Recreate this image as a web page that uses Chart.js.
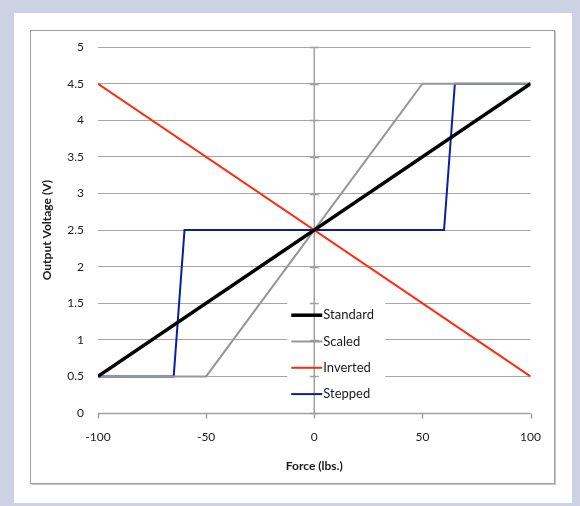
<!DOCTYPE html>
<html>
<head>
<meta charset="utf-8">
<script src="https://cdn.jsdelivr.net/npm/chart.js@4.4.1/dist/chart.umd.min.js"></script>
<style>
  body { margin: 0; background: #cdd1e4; width: 580px; height: 506px; overflow: hidden; position: relative; }
  #panel { position: absolute; left: 14px; top: 13px; width: 558px; height: 490px; background: #fff; }
  #frame { position: absolute; left: 30px; top: 30px; width: 523px; height: 452px; border: 1px solid #a0a0a0; box-shadow: 1px 1px 0 #c8c8c8; background: #fff; overflow: hidden; }
  canvas { display: block; position: absolute; left: 0; top: -5px; }
</style>
</head>
<body>
<div id="panel"></div>
<div id="frame"><canvas id="myChart" width="527" height="457"></canvas></div>
<script>
// series: force (lbs.) -> output voltage (V)
const standardX = [-100, 100];
const standardY = [0.5, 4.5];
const scaledX = [-100, -50, 50, 100];
const scaledY = [0.5, 0.5, 4.5, 4.5];
const invertedX = [-100, 100];
const invertedY = [4.5, 0.5];
const steppedX = [-100, -65, -60, 60, 65, 100];
const steppedY = [0.5, 0.5, 2.5, 2.5, 4.5, 4.5];

const seriesNames = ["Standard", "Scaled", "Inverted", "Stepped"];
const seriesColors = ["#000000", "#969696", "#ff2a0a", "#0a1fa0"];
const seriesWidths = [3.5, 2, 2, 2];

function toPoints(xs, ys) {
  return xs.map((x, i) => ({ x: x, y: ys[i] }));
}

const font = "Lato, 'Open Sans', sans-serif";

// zero-crossing axes + legend box drawn in the plot area, like the Excel original
const excelBits = {
  id: 'excelBits',
  beforeDatasetsDraw(chart) {
    const ctx = chart.ctx;
    const xs = chart.scales.x, ys = chart.scales.y;
    const area = chart.chartArea;
    const x0 = xs.getPixelForValue(0);
    ctx.save();
    // legend background hides the gridlines behind it
    ctx.fillStyle = '#fff';
    ctx.fillRect(x0 - 27, area.top + 254, 98, 106);
    ctx.strokeStyle = '#a0a0a0';
    ctx.lineWidth = 1.5;
    ctx.beginPath();
    ctx.moveTo(x0, area.top);
    ctx.lineTo(x0, area.bottom);
    ys.ticks.forEach(t => {
      const py = Math.round(ys.getPixelForValue(t.value)) + 0.5;
      ctx.moveTo(x0 - 4.5, py);
      ctx.lineTo(x0 + 4.5, py);
    });
    ctx.stroke();
    ctx.beginPath();
    const yb = Math.round(ys.getPixelForValue(0)) + 0.5;
    ctx.moveTo(area.left, yb);
    ctx.lineTo(area.right, yb);
    xs.ticks.forEach(t => {
      const px = Math.round(xs.getPixelForValue(t.value)) + 0.5;
      ctx.moveTo(px, yb);
      ctx.lineTo(px, yb + 5);
    });
    ctx.stroke();
    ctx.restore();
  },
  afterDatasetsDraw(chart) {
    const ctx = chart.ctx;
    const area = chart.chartArea;
    const x0 = chart.scales.x.getPixelForValue(0);
    ctx.save();
    ctx.font = '13px ' + font;
    ctx.textBaseline = 'middle';
    chart.data.datasets.forEach((ds, i) => {
      const py = area.top + 268 + i * 26.3;
      ctx.strokeStyle = ds.borderColor;
      ctx.lineWidth = ds.borderWidth;
      ctx.beginPath();
      ctx.moveTo(x0 - 23, py);
      ctx.lineTo(x0 + 8, py);
      ctx.stroke();
      ctx.fillStyle = '#1a1a1a';
      ctx.fillText(ds.label, x0 + 9, py);
    });
    ctx.restore();
  }
};

const ctx = document.getElementById('myChart').getContext('2d');
const chart = new Chart(ctx, {
  type: 'line',
  data: {
    datasets: [
      { label: seriesNames[0], data: toPoints(standardX, standardY) },
      { label: seriesNames[1], data: toPoints(scaledX, scaledY) },
      { label: seriesNames[2], data: toPoints(invertedX, invertedY) },
      { label: seriesNames[3], data: toPoints(steppedX, steppedY) }
    ].map((ds, i) => Object.assign(ds, {
      borderColor: seriesColors[i],
      backgroundColor: seriesColors[i],
      borderWidth: seriesWidths[i],
      pointRadius: 0,
      tension: 0,
      fill: false
    }))
  },
  options: {
    responsive: false,
    animation: false,
    devicePixelRatio: 1,
    layout: { padding: { top: 10, right: 20, bottom: 0, left: 0 } },
    plugins: { legend: { display: false }, tooltip: { enabled: false } },
    scales: {
      x: {
        type: 'linear',
        min: -100, max: 100,
        afterFit: s => { s.height = 70; },
        grid: { display: false, drawTicks: false },
        border: { display: false },
        ticks: { stepSize: 50, padding: 17, color: '#1a1a1a', font: { family: font, size: 12 } },
        title: { display: true, text: 'Force (lbs.)', color: '#1a1a1a', padding: 10, font: { family: font, size: 12, weight: 'bold' } }
      },
      y: {
        min: 0, max: 5,
        afterFit: s => { s.width = 67; },
        grid: { color: c => c.tick.value === 0 ? 'rgba(0,0,0,0)' : '#a6a6a6', lineWidth: 1, drawTicks: false },
        border: { display: false },
        ticks: { stepSize: 0.5, padding: 14, color: '#1a1a1a', font: { family: font, size: 12 }, callback: v => String(v) },
        title: { display: true, text: 'Output Voltage (V)', color: '#1a1a1a', padding: 9, font: { family: font, size: 12, weight: 'bold' } }
      }
    }
  },
  plugins: [excelBits]
});
</script>
</body>
</html>
